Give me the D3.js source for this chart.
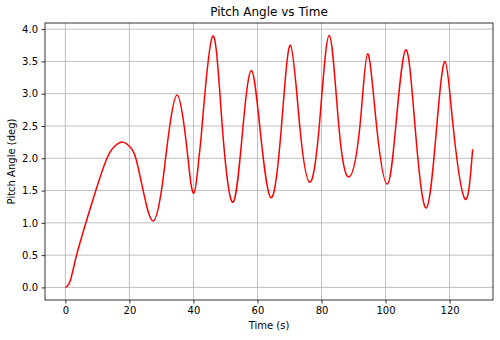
<html>
<head>
<title>Pitch Angle vs Time</title>
<script src="https://d3js.org/d3.v7.min.js"></script>
<style>
body { margin: 0; background: #ffffff; }
text { font-family: 'DejaVu Sans', sans-serif; fill: #000000; }
.grid line { stroke: #b0b0b0; stroke-width: 0.8; }
.axis path, .axis line { stroke: #000000; stroke-width: 0.8; }
</style>
</head>
<body>

<svg id="chart" width="500" height="340"></svg>

<script>
// values (time in s, pitch in deg)
var timeValues = [0, 1.5, 3.5, 6.4, 9.5, 13.0, 15.5, 18.0, 20.3, 22.0, 24.3, 27.4, 30.0, 31.3, 32.6, 34.9,
    37.1, 38.3, 40.1, 41.7, 42.7, 46.0, 49.0, 52.4, 55.5, 58.1, 60.7, 64.2, 67.5, 70.3, 73.2,
    76.3, 79.3, 82.4, 85.4, 88.6, 92.0, 94.4, 97.2, 100.5, 103.2, 106.3, 109.2, 112.7, 116.0,
    118.6, 121.1, 124.8, 127.2];
var pitchValues = [0, 0.1, 0.5, 1.0, 1.5, 2.0, 2.19, 2.25, 2.17, 2.0, 1.5, 1.03, 1.5, 2.0, 2.5, 2.98,
    2.5, 2.0, 1.46, 2.0, 2.5, 3.89, 2.5, 1.32, 2.5, 3.36, 2.5, 1.39, 2.5, 3.75, 2.5,
    1.63, 2.5, 3.90, 2.5, 1.71, 2.5, 3.62, 2.5, 1.60, 2.5, 3.68, 2.5, 1.23, 2.5,
    3.50, 2.5, 1.37, 2.14];
var xTicks = [0, 20, 40, 60, 80, 100, 120];
var yTicks = [0, 0.5, 1.0, 1.5, 2.0, 2.5, 3.0, 3.5, 4.0];

var svg = d3.select("#chart");
var margin = {left: 45, top: 23, right: 7, bottom: 40};
var plotW = 500 - margin.left - margin.right;
var plotH = 340 - margin.top - margin.bottom;

var points = timeValues.map(function (t, i) { return {t: t, v: pitchValues[i]}; });

// 5% padding on each side like matplotlib autoscale
var tExt = d3.extent(timeValues);
var vExt = d3.extent(pitchValues);
var tPad = (tExt[1] - tExt[0]) * 0.05;
var vPad = (vExt[1] - vExt[0]) * 0.05;

var x = d3.scaleLinear()
    .domain([tExt[0] - tPad, tExt[1] + tPad])
    .range([0, plotW]);
var y = d3.scaleLinear()
    .domain([vExt[0] - vPad, vExt[1] + vPad])
    .range([plotH, 0]);

var g = svg.append("g")
    .attr("transform", "translate(" + margin.left + "," + margin.top + ")");

// grid
var grid = g.append("g").attr("class", "grid");
grid.selectAll("line.vx")
    .data(xTicks)
    .enter().append("line")
    .attr("x1", function (d) { return x(d); })
    .attr("x2", function (d) { return x(d); })
    .attr("y1", 0)
    .attr("y2", plotH);
grid.selectAll("line.hy")
    .data(yTicks)
    .enter().append("line")
    .attr("x1", 0)
    .attr("x2", plotW)
    .attr("y1", function (d) { return y(d); })
    .attr("y2", function (d) { return y(d); });

// the pitch line
var line = d3.line()
    .x(function (d) { return x(d.t); })
    .y(function (d) { return y(d.v); })
    .curve(d3.curveNatural);

g.append("path")
    .datum(points)
    .attr("d", line)
    .attr("fill", "none")
    .attr("stroke", "#ff0000")
    .attr("stroke-width", 1.5)
    .attr("stroke-linejoin", "round");

// axes
var xAxis = d3.axisBottom(x).tickValues(xTicks).tickSize(3.5).tickPadding(3.5)
    .tickFormat(d3.format("d"));
var yAxis = d3.axisLeft(y).tickValues(yTicks).tickSize(3.5).tickPadding(3.5)
    .tickFormat(d3.format(".1f"));

g.append("g")
    .attr("class", "axis")
    .attr("transform", "translate(0," + plotH + ")")
    .call(xAxis)
    .call(function (a) { a.select(".domain").remove(); })
    .selectAll("text").style("font-size", "10px");

g.append("g")
    .attr("class", "axis")
    .call(yAxis)
    .call(function (a) { a.select(".domain").remove(); })
    .selectAll("text").style("font-size", "10px");

// frame
g.append("rect")
    .attr("width", plotW)
    .attr("height", plotH)
    .attr("fill", "none")
    .attr("stroke", "#000000")
    .attr("stroke-width", 0.8);

// labels
svg.append("text")
    .attr("x", margin.left + plotW / 2)
    .attr("y", 16)
    .attr("text-anchor", "middle")
    .style("font-size", "12px")
    .text("Pitch Angle vs Time");

svg.append("text")
    .attr("x", margin.left + plotW / 2)
    .attr("y", 329)
    .attr("text-anchor", "middle")
    .style("font-size", "10px")
    .text("Time (s)");

svg.append("text")
    .attr("transform", "translate(15," + (margin.top + plotH / 2) + ") rotate(-90)")
    .attr("text-anchor", "middle")
    .style("font-size", "10px")
    .text("Pitch Angle (deg)");
</script>

</body>
</html>
